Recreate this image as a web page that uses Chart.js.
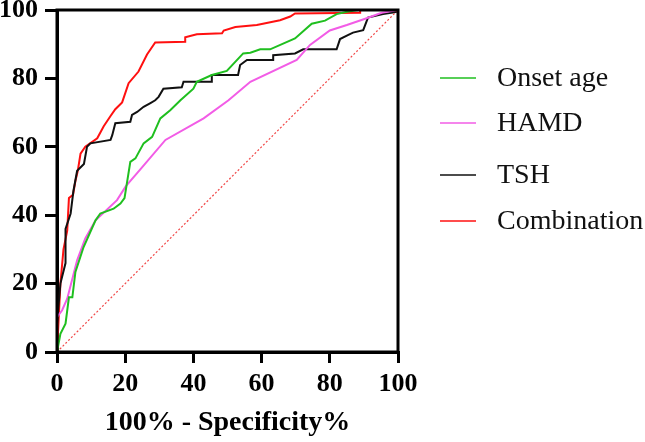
<!DOCTYPE html>
<html>
<head>
<meta charset="utf-8">
<script src="https://cdn.jsdelivr.net/npm/chart.js@4.4.0/dist/chart.umd.min.js"></script>
<style>
  html, body { margin: 0; padding: 0; background: #fff; }
  #wrap { width: 645px; height: 442px; }
</style>
</head>
<body>
<div id="wrap"><canvas id="roc"></canvas></div>
<script>
const seriesNames = ['Onset age', 'HAMD', 'TSH', 'Combination'];
const seriesColors = ['#1fbf1f', '#f25ce6', '#111111', '#ff1010'];
const xTicks = [0, 20, 40, 60, 80, 100];

// ROC points (100% - specificity, sensitivity)
const onsetX = [0, 1, 2.5, 3.5, 4.5, 5.4, 7.8, 11.3, 12.7, 16.6, 18.6, 19.8, 21.5, 23, 25.4, 27.9, 30.3, 33.2, 36.2, 40, 41, 45.4, 49.8, 54.6, 56.7, 59.6, 62.5, 69.8, 74.7, 78.6, 82, 85, 88.3, 100];
const onsetY = [0, 5.3, 8.3, 16, 16, 23.4, 30.7, 38.5, 40.5, 41.9, 43.4, 45, 55.6, 56.6, 61, 62.9, 68.3, 70.7, 73.6, 77, 79, 81, 82.2, 87.3, 87.5, 88.5, 88.5, 91.7, 96, 96.9, 98.8, 99.5, 100, 100];

const hamdX = [0, 0, 1.5, 3, 5.9, 8.3, 11.3, 17.6, 20.2, 24.5, 31.8, 43, 50.3, 56.7, 70.3, 74.2, 80, 85, 90.8, 95.2, 100];
const hamdY = [0, 10.2, 12.2, 15.6, 26.8, 33.2, 38.5, 44.4, 48.5, 53.5, 62, 68.3, 73.6, 79, 85.4, 89.8, 94, 95.6, 97.6, 99.2, 100];

const tshX = [0, 0, 1, 2.5, 2.5, 4, 4.8, 5.9, 7.9, 8.8, 9.8, 15.7, 16.2, 17.1, 21.5, 22, 23.5, 25.4, 27.4, 28.8, 29.8, 31.2, 36.6, 37.1, 45.4, 45.4, 53.1, 53.7, 55.7, 63.4, 63.4, 69.8, 72.2, 82, 83, 85, 86.8, 89.8, 91.2, 95.6, 98.5, 99.6, 100];
const tshY = [0, 8.3, 20, 26, 36, 40.5, 47, 53, 55, 60, 61, 62, 63.4, 66.9, 67.3, 69.3, 70.2, 71.7, 72.8, 73.6, 74.6, 77, 77.4, 79, 79, 81, 81, 83.9, 85.4, 85.4, 86.8, 87.3, 88.5, 88.5, 91.5, 92.5, 93.4, 94.1, 97.8, 98.8, 99.3, 99.5, 100];

const comboX = [0, 1, 1.9, 3, 3.5, 4.7, 5.4, 6.1, 6.9, 8.3, 11.8, 13.7, 15.7, 17.1, 19.1, 21, 23.9, 26.4, 28.8, 37.6, 37.6, 41, 48.4, 48.9, 52.3, 58.6, 65.4, 68.4, 69.8, 88.9, 88.9, 100];
const comboY = [0, 20, 30, 35.5, 45, 46, 50, 53, 58, 60, 62.5, 66, 69, 71, 73, 78.6, 82, 87, 90.5, 90.7, 92, 92.9, 93.2, 94, 95, 95.6, 97, 98.1, 99, 99.2, 100, 100];

const refX = [0, 100];
const refY = [0, 100];

const serif = 'Liberation Serif';

function toPoints(xs, ys) {
    return xs.map((x, i) => ({ x: x, y: ys[i] }));
}

const curves = [
    toPoints(onsetX, onsetY),
    toPoints(hamdX, hamdY),
    toPoints(tshX, tshY),
    toPoints(comboX, comboY)
];

const datasets = curves.map((pts, i) => ({
    label: seriesNames[i],
    data: pts,
    borderColor: seriesColors[i],
    borderWidth: 2,
    pointRadius: 0,
    tension: 0,
    fill: false
}));

datasets.unshift({
    label: 'reference',
    data: toPoints(refX, refY),
    borderColor: 'rgba(240,60,60,0.95)',
    borderWidth: 1.2,
    borderDash: [2, 2],
    pointRadius: 0,
    fill: false
});

// box around plot + legend on the right
const framePlugin = {
    id: 'frame',
    afterDraw(chart) {
        const { ctx, chartArea } = chart;
        ctx.save();
        ctx.strokeStyle = '#000';
        ctx.lineWidth = 3;
        ctx.strokeRect(chartArea.left, chartArea.top, chartArea.right - chartArea.left, chartArea.bottom - chartArea.top);

        ctx.font = '28px "' + serif + '"';
        ctx.textBaseline = 'middle';
        const rows = [78, 123, 175, 221];
        seriesNames.forEach((name, i) => {
            const y = rows[i];
            ctx.strokeStyle = seriesColors[i];
            ctx.lineWidth = 1.5;
            ctx.beginPath();
            ctx.moveTo(440, y);
            ctx.lineTo(476, y);
            ctx.stroke();
            ctx.fillStyle = '#111';
            ctx.fillText(name, 497, y + 1);
        });
        ctx.restore();
    }
};

const tickFont = { family: serif, size: 26, weight: 'bold' };

new Chart(document.getElementById('roc'), {
    type: 'line',
    data: { datasets: datasets },
    options: {
        responsive: true,
        maintainAspectRatio: false,
        animation: false,
        layout: { padding: { top: 0, right: 247, left: 0, bottom: 2 } },
        plugins: {
            legend: { display: false },
            tooltip: { enabled: false }
        },
        scales: {
            x: {
                type: 'linear',
                min: 0,
                max: 100,
                afterBuildTicks(scale) { scale.ticks = xTicks.map(v => ({ value: v })); },
                afterFit(scale) { scale.height = 88; scale.paddingLeft = 0; },
                border: { color: '#000', width: 3 },
                grid: { drawOnChartArea: false, color: '#000', lineWidth: 3, tickLength: 11 },
                ticks: { color: '#000', font: tickFont, padding: 6, maxRotation: 0 },
                title: {
                    display: true,
                    text: '100% - Specificity%',
                    color: '#000',
                    font: { family: serif, size: 28, weight: 'bold' },
                    padding: { top: 0, bottom: 0 }
                }
            },
            y: {
                min: 0,
                max: 100,
                afterBuildTicks(scale) { scale.ticks = xTicks.map(v => ({ value: v })); },
                afterFit(scale) { scale.width = 57; scale.paddingTop = 10; scale.paddingBottom = 0; },
                border: { color: '#000', width: 3 },
                grid: { drawOnChartArea: false, color: '#000', lineWidth: 3, tickLength: 12 },
                ticks: { color: '#000', font: { family: serif, size: 26, weight: 'bold', lineHeight: 0.6 }, padding: 7 }
            }
        }
    },
    plugins: [framePlugin]
});
</script>
</body>
</html>
